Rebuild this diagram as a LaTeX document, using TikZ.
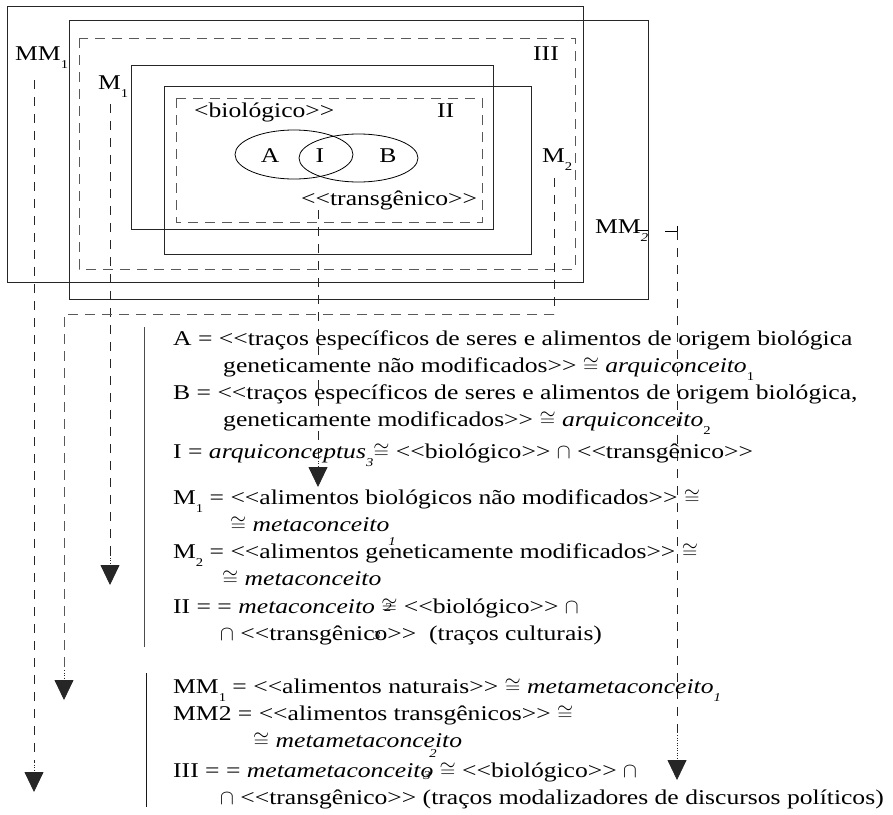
\documentclass[tikz,border=0pt]{standalone}
\usepackage{fontspec}
\setmainfont{Liberation Serif}[Ligatures=TeXOff, FakeStretch=1.22]
\usetikzlibrary{arrows.meta}
\newcommand{\lowsub}[1]{\raisebox{-0.4em}{\fontsize{12}{12}\selectfont #1}}
\begin{document}
\spaceskip=13pt\relax
\begin{tikzpicture}[x=1pt,y=-1pt,
  box/.style={draw=black!85, line width=0.9pt},
  dbox/.style={draw=black!65, line width=0.9pt, dash pattern=on 10pt off 7pt},
  vline/.style={draw=black!85, line width=0.8pt, dash pattern=on 9pt off 8pt},
  dotl/.style={draw=black!85, line width=0.8pt, dash pattern=on 1pt off 1.5pt},
  tipd/.style={-{Triangle[width=19pt,length=20pt]}},
  txt/.style={anchor=base west, inner sep=0pt, font=\fontsize{21}{24}\selectfont},
  lbl/.style={anchor=base west, inner sep=0pt, font=\fontsize{21}{24}\selectfont},
  num/.style={inner sep=0pt, font=\fontsize{12}{12}\selectfont\itshape}
]
\useasboundingbox (0,0) rectangle (893,814);
% rectangles
\draw[box] (7,6) rectangle (583,282);
\draw[box] (69,20) rectangle (648,299);
\draw[dbox] (79,38) rectangle (575,269);
\draw[box] (131,65) rectangle (493,229);
\draw[box] (164,86) rectangle (531,254);
\draw[dbox] (176,98) rectangle (482,222);
% ellipses
\draw[line width=0.8pt] (294,154.5) ellipse [x radius=59, y radius=24.5];
\draw[line width=0.8pt] (358.5,158) ellipse [x radius=59.5, y radius=24];
\node[lbl, anchor=base] (la) at (270,162) {A};
\node[lbl, anchor=base] (li) at (320,162) {I};
\node[lbl, anchor=base] (lb) at (388,162) {B};
% labels
\node[lbl] (lmm1) at (15,60) {MM\lowsub{1}};
\node[lbl] (lm1) at (98,89) {M\lowsub{1}};
\node[lbl] (liii) at (533,60) {III};
\node[lbl] (lm2) at (542,162) {M\lowsub{2}};
\node[lbl] (lmm2) at (595,233) {MM\lowsub{\textit{2}}};
\node[lbl] (lbio) at (194,117) {<biológico>>};
\node[lbl] (lii) at (437,117) {II};
\node[lbl] (ltr) at (301,205) {<<transgênico>>};
\draw[line width=0.8pt] (637,230) -- (648,230);
% connectors
\coordinate (mm1s) at (34,80);
\coordinate (mm1d) at (34,762);
\coordinate (mm1t) at (34,792);
\draw[vline] (mm1s) -- (mm1d);
\draw[dotl, tipd] (mm1d) -- (mm1t);
\coordinate (m1s) at (110,104);
\coordinate (m1d) at (110,555);
\coordinate (m1t) at (110,585);
\draw[vline] (m1s) -- (m1d);
\draw[dotl, tipd] (m1d) -- (m1t);
\coordinate (m2s) at (554,178);
\coordinate (m2c) at (554,314);
\coordinate (m2e) at (64,314);
\coordinate (m2d) at (64,670);
\coordinate (m2t) at (64,700);
\draw[vline] (m2s) -- (m2c);
\draw[dbox] (m2c) -- (m2e) -- (m2d);
\draw[dotl, tipd] (m2d) -- (m2t);
\coordinate (trs) at (318,210);
\coordinate (trd) at (318,458);
\coordinate (trt) at (318,487);
\draw[vline] (trs) -- (trd);
\draw[dotl, tipd] (trd) -- (trt);
\coordinate (mm2a) at (665,231);
\coordinate (mm2s) at (677,231);
\coordinate (mm2d) at (677,735);
\coordinate (mm2t) at (677,780);
\draw[line width=0.8pt] (mm2a) -- (mm2s);
\draw[line width=0.8pt] (677,226) -- (677,236);
\draw[vline] (mm2s) -- (mm2d);
\draw[dotl, tipd] (mm2d) -- (mm2t);
% bars
\draw[draw=black!70, line width=1pt] (144,327) -- (144,647);
\draw[draw=black!90, line width=0.8pt] (146,673) -- (146,807);
% text
\node[txt] (tA) at (173,345) {A = <<traços específicos de seres e alimentos de origem biológica};
\node[txt] (tA2) at (223,372) {geneticamente não modificados>> $\cong$ \textit{arquiconceito}\lowsub{1}};
\node[txt] (tB) at (173,399) {B = <<traços específicos de seres e alimentos de origem biológica,};
\node[txt] (tB2) at (223,426) {geneticamente modificados>> $\cong$ \textit{arquiconceito}\lowsub{2}};
\node[txt] (tI) at (173,458) {I = \textit{arquiconceptus}\lowsub{\textit{3}}$\cong$ <<biológico>> $\cap$ <<transgênico>>};
\node[txt] (tM1) at (173,504) {M\lowsub{1} = <<alimentos biológicos não modificados>> $\cong$};
\node[txt] (tM1b) at (230,531) {$\cong$ \textit{metaconceito}};
\node[txt] (tM2) at (173,558) {M\lowsub{2} = <<alimentos geneticamente modificados>> $\cong$};
\node[txt] (tM2b) at (222,585) {$\cong$ \textit{metaconceito}};
\node[txt] (tII) at (173,613) {II = = \textit{metaconceito} $\cong$ <<biológico>> $\cap$};
\node[txt] (tII2) at (220,640) {$\cap$ <<transgênico>>~~(traços culturais)};
\node[txt] (tMM1) at (173,693) {MM\lowsub{1} = <<alimentos naturais>> $\cong$ \textit{metametaconceito}\lowsub{\textit{1}}};
\node[txt] (tMM2) at (173,720) {MM2 = <<alimentos transgênicos>> $\cong$};
\node[txt] (tMM2b) at (253,747) {$\cong$ \textit{metametaconceito}};
\node[txt] (tIII) at (173,777) {III = = \textit{metametaconceito} $\cong$ <<biológico>> $\cap$};
\node[txt] (tIII2) at (220,804) {$\cap$ <<transgênico>> (traços modalizadores de discursos políticos)};
% stray numerals
\node[num] (n1) at (392,542) {1};
\node[num] (n2) at (388,608) {2};
\node[num] (n3) at (377,636) {3};
\node[num] (n4) at (433,754) {2};
\node[num] (n5) at (427,776) {3};
\end{tikzpicture}
\end{document}
